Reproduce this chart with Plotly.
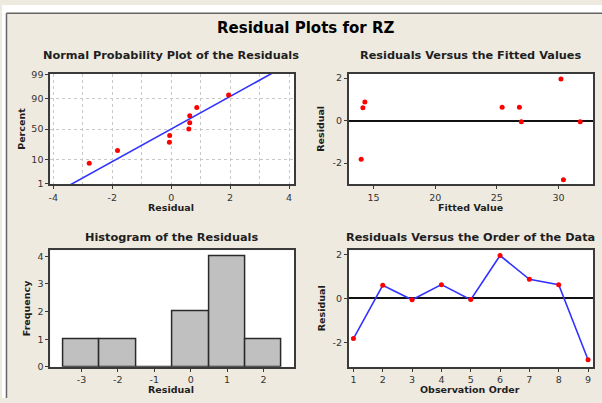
import numpy as np
import plotly.graph_objects as go
from statistics import NormalDist

# ---------------- data ----------------
order = [1, 2, 3, 4, 5, 6, 7, 8, 9]
residuals = [-1.82, 0.60, -0.06, 0.63, -0.05, 1.95, 0.87, 0.63, -2.78]
fitted = [14.00, 14.14, 26.99, 25.43, 31.76, 30.20, 14.30, 26.83, 30.40]
prob_ticks = [1, 10, 50, 90, 99]
prob_xticks = [-4, -2, 0, 2, 4]
fit_xticks = [15, 20, 25, 30]
res_yticks = [-2, 0, 2]
hist_bins = [-3, -2, -1, 0, 1, 2]
freq_ticks = [0, 1, 2, 3, 4]

W, H = 602, 403
def fx(px):
    return px / W
def fy(py):
    return 1 - py / H

def lab(vals):
    return [str(v) for v in vals]  # plain hyphen minus as in the reference

nd = NormalDist()
n = len(residuals)
sorted_res = sorted(residuals)
pp = [(i + 1 - 0.3) / (n + 0.4) for i in range(n)]
zpts = [nd.inv_cdf(p) for p in pp]
mu = float(np.mean(residuals))
sd = float(np.std(residuals, ddof=1))
zline = [nd.inv_cdf(0.004), nd.inv_cdf(0.996)]
xline = [mu + sd * zz for zz in zline]
counts = [sum(1 for r in residuals if b - 0.5 <= r < b + 0.5) for b in hist_bins]

RED = "#FF0000"
BLUE = "#3333FF"
FRAME = "#3a3a3a"
BEIGE = "#EEEAE0"
TXT = "#1e1e1e"
FONT = "DejaVu Sans"

fig = go.Figure()
fig.add_trace(go.Scatter(x=xline, y=zline, mode="lines", line=dict(color=BLUE, width=1.6),
                         xaxis="x", yaxis="y", hoverinfo="skip"))
fig.add_trace(go.Scatter(x=sorted_res, y=zpts, mode="markers", marker=dict(color=RED, size=5),
                         xaxis="x", yaxis="y"))
fig.add_trace(go.Scatter(x=fitted, y=residuals, mode="markers", marker=dict(color=RED, size=5),
                         xaxis="x2", yaxis="y2"))
fig.add_trace(go.Bar(x=hist_bins, y=counts, width=1, marker=dict(color="#C0C0C0", line=dict(color="#2a2a2a", width=1.5)),
                     xaxis="x3", yaxis="y3"))
fig.add_trace(go.Scatter(x=order, y=residuals, mode="lines+markers", line=dict(color=BLUE, width=1.6),
                         marker=dict(color=RED, size=5), xaxis="x4", yaxis="y4"))

L = [48.5, 293]
R = [348, 593]
T = [70.5, 184]
B = [251.5, 371]

def ax(dom, vals, text=None, **kw):
    d = dict(domain=dom, showline=True, mirror=True, linecolor=FRAME, linewidth=2,
             ticks="outside", ticklen=3, tickcolor=FRAME, tickfont=dict(size=9.5, color="#333", family=FONT),
             tickvals=vals, ticktext=text if text is not None else lab(vals),
             showgrid=False, zeroline=False, fixedrange=True)
    d.update(kw)
    return d

GRID = dict(showgrid=True, gridcolor="#c8c8c8", griddash="3px,3px", gridwidth=1)

fig.update_layout(
    width=W, height=H, margin=dict(l=0, r=0, t=0, b=0),
    paper_bgcolor=BEIGE, plot_bgcolor="white", showlegend=False,
    font=dict(family=FONT, color=TXT),
    bargap=0,
    xaxis=ax([fx(L[0]), fx(L[1])], prob_xticks, anchor="y", range=[-4.1, 4.17],
             minor=dict(dtick=1, tick0=0, ticks="", **GRID)),
    yaxis=ax([fy(T[1]), fy(T[0])], [nd.inv_cdf(p / 100) for p in prob_ticks], lab(prob_ticks), anchor="x",
             range=[nd.inv_cdf(0.01) - 0.02, nd.inv_cdf(0.99) + 0.02], **GRID),
    xaxis2=ax([fx(R[0]), fx(R[1])], fit_xticks, anchor="y2", range=[13.0, 32.8]),
    yaxis2=ax([fy(T[1]), fy(T[0])], res_yticks, anchor="x2", range=[-3.0, 2.2],
              zeroline=True, zerolinecolor="#111", zerolinewidth=1.5),
    xaxis3=ax([fx(L[0]), fx(L[1])], hist_bins, anchor="y3", range=[-3.855, 2.84]),
    yaxis3=ax([fy(B[1]), fy(B[0])], freq_ticks, anchor="x3", range=[0, 4.22]),
    xaxis4=ax([fx(R[0]), fx(R[1])], order, anchor="y4", range=[0.844, 9.17]),
    yaxis4=ax([fy(B[1]), fy(B[0])], res_yticks, anchor="x4", range=[-3.1, 2.19],
              zeroline=True, zerolinecolor="#111", zerolinewidth=1.5),
)

def ann(text, x, y, size, angle=0, color=TXT):
    fig.add_annotation(text="<b>%s</b>" % text, x=fx(x), y=fy(y), xref="paper", yref="paper",
                       showarrow=False, textangle=angle, xanchor="center", yanchor="middle",
                       font=dict(size=size, color=color, family=FONT))

ann("Residual Plots for RZ", 305, 24, 15, color="#000")
ann("Normal Probability Plot of the Residuals", 170, 52, 11.3)
ann("Residuals Versus the Fitted Values", 470, 52, 11.3)
ann("Histogram of the Residuals", 170, 238, 11.3)
ann("Residuals Versus the Order of the Data", 470, 238, 11.3)
ann("Residual", 170, 208, 9.5)
ann("Fitted Value", 470, 208, 9.5)
ann("Residual", 170, 394, 9.5)
ann("Observation Order", 470, 394, 9.5)
ann("Percent", 20, 127, 9.5, angle=-90)
ann("Residual", 320, 127, 9.5, angle=-90)
ann("Frequency", 24, 311, 9.5, angle=-90)
ann("Residual", 320, 311, 9.5, angle=-90)

# outer frame: white strips at top/left and grey border lines
fig.add_shape(type="rect", xref="paper", yref="paper", x0=0, x1=1, y0=fy(8), y1=1,
              fillcolor="white", line=dict(width=0), layer="below")
fig.add_shape(type="rect", xref="paper", yref="paper", x0=0, x1=fx(4), y0=0, y1=1,
              fillcolor="white", line=dict(width=0), layer="below")
fig.add_shape(type="line", xref="paper", yref="paper", x0=fx(4.5), x1=1, y0=fy(8.5), y1=fy(8.5),
              line=dict(color="#666", width=1.5))
fig.add_shape(type="line", xref="paper", yref="paper", x0=fx(4.5), x1=fx(4.5), y0=0, y1=fy(8.5),
              line=dict(color="#666", width=1.5))

fig.write_html("out.html", config={"displayModeBar": False},
               post_script="document.body.style.margin='0px';document.body.style.overflow='hidden';")
